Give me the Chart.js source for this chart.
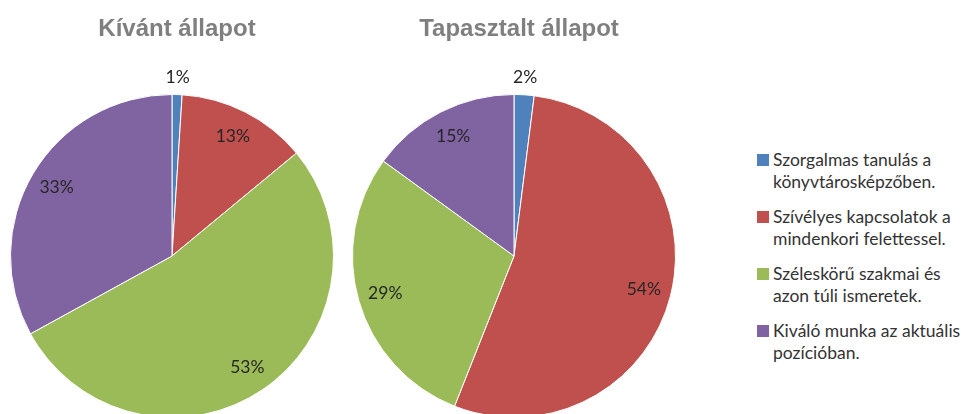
<!DOCTYPE html>
<html>
<head>
<meta charset="utf-8">
<script src="https://cdn.jsdelivr.net/npm/chart.js@4/dist/chart.umd.min.js"></script>
<style>
  html, body { margin: 0; padding: 0; background: #fff; width: 969px; height: 414px; overflow: hidden; }
  canvas { position: absolute; top: 0; }
  #legend { position: absolute; left: 757px; top: 0; font-family: Lato, "Open Sans", sans-serif; font-size: 17.5px; color: #333; }
  .item { position: absolute; left: 0; white-space: nowrap; }
  .sw { position: absolute; left: 0; top: 5px; width: 12px; height: 12px; }
  .txt { position: absolute; left: 16px; top: 0; line-height: 22px; }
</style>
</head>
<body>
<canvas id="c1" width="345" height="418" style="left:0px"></canvas>
<canvas id="c2" width="345" height="418" style="left:345px"></canvas>
<div id="legend"></div>
<script>
const categories = [
  "Szorgalmas tanulás a\nkönyvtárosképzőben.",
  "Szívélyes kapcsolatok a\nmindenkori felettessel.",
  "Széleskörű szakmai és\nazon túli ismeretek.",
  "Kiváló munka az aktuális\npozícióban."
];
const titles = ["Kívánt állapot", "Tapasztalt állapot"];
const kivantValues = [1, 13, 53, 33];
const tapasztaltValues = [2, 54, 29, 15];
const colors = ["#4F81BD", "#C0504D", "#9BBB59", "#8064A2"];

const pctLabels = {
  id: 'pctLabels',
  afterDatasetsDraw(chart) {
    const ctx = chart.ctx;
    const meta = chart.getDatasetMeta(0);
    const data = chart.data.datasets[0].data;
    ctx.save();
    ctx.font = '17.5px Lato, "Open Sans", sans-serif';
    ctx.fillStyle = '#262626';
    ctx.textAlign = 'center';
    ctx.textBaseline = 'middle';
    meta.data.forEach((arc, i) => {
      const p = arc.getProps(['x', 'y', 'startAngle', 'endAngle', 'outerRadius'], true);
      const mid = (p.startAngle + p.endAngle) / 2;
      const d = data[i] < 5 ? p.outerRadius + 17 : p.outerRadius * 0.83;
      ctx.fillText(data[i] + '%', p.x + Math.cos(mid) * d, p.y + Math.sin(mid) * d);
    });
    ctx.restore();
  }
};

const pieTitle = {
  id: 'pieTitle',
  afterDraw(chart, args, opts) {
    const ctx = chart.ctx;
    const a = chart.chartArea;
    ctx.save();
    ctx.font = 'bold 24px "Liberation Sans", Arial, sans-serif';
    ctx.fillStyle = '#7F7F7F';
    ctx.textAlign = 'center';
    ctx.textBaseline = 'alphabetic';
    ctx.fillText(opts.text, (a.left + a.right) / 2 + 5, 36);
    ctx.restore();
  }
};

function makePie(id, values, title, padL, padR) {
  return new Chart(document.getElementById(id), {
    type: 'pie',
    data: {
      labels: categories.map(s => s.split('\n')),
      datasets: [{
        data: values,
        backgroundColor: colors,
        borderColor: '#ffffff',
        borderWidth: 1
      }]
    },
    options: {
      responsive: false,
      animation: false,
      layout: { padding: { left: padL, right: padR, top: 94, bottom: 0 } },
      plugins: {
        legend: { display: false },
        tooltip: { enabled: false },
        title: { display: false },
        pieTitle: { text: title }
      }
    },
    plugins: [pctLabels, pieTitle]
  });
}

makePie('c1', kivantValues, titles[0], 10, 11);
makePie('c2', tapasztaltValues, titles[1], 7, 14);

const legend = document.getElementById('legend');
categories.forEach((c, i) => {
  const item = document.createElement('div');
  item.className = 'item';
  item.style.top = (149 + i * 57) + 'px';
  const sw = document.createElement('div');
  sw.className = 'sw';
  sw.style.background = colors[i];
  const t = document.createElement('div');
  t.className = 'txt';
  t.innerHTML = c.split('\n').map(s => s.replace(/&/g, '&amp;').replace(/</g, '&lt;')).join('<br>');
  item.appendChild(sw);
  item.appendChild(t);
  legend.appendChild(item);
});
</script>
</body>
</html>
